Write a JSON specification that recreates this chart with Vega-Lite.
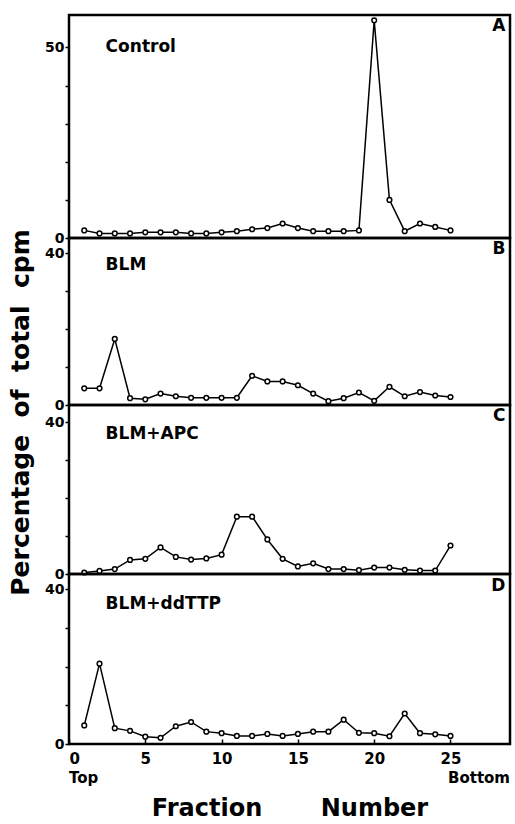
{
  "$schema": "https://vega.github.io/schema/vega-lite/v6.json",
  "padding": {"top": 13, "left": 6, "right": 5, "bottom": 0},
  "config": {
    "font": "DejaVu Sans",
    "view": {"stroke": "black", "strokeWidth": 2.5},
    "concat": {"spacing": 0},
    "axis": {"labelFont": "DejaVu Sans", "labelFontWeight": "bold", "labelColor": "black", "tickColor": "black", "tickWidth": 1.5, "domain": false, "grid": false}
  },
  "bounds": "flush",
  "datasets": {
    "A": [
      {"f": 1, "v": 2.0}, {"f": 2, "v": 1.2}, {"f": 3, "v": 1.2}, {"f": 4, "v": 1.2}, {"f": 5, "v": 1.5},
      {"f": 6, "v": 1.5}, {"f": 7, "v": 1.5}, {"f": 8, "v": 1.2}, {"f": 9, "v": 1.2}, {"f": 10, "v": 1.5},
      {"f": 11, "v": 1.8}, {"f": 12, "v": 2.3}, {"f": 13, "v": 2.6}, {"f": 14, "v": 3.8}, {"f": 15, "v": 2.6},
      {"f": 16, "v": 1.8}, {"f": 17, "v": 1.8}, {"f": 18, "v": 1.8}, {"f": 19, "v": 2.0}, {"f": 20, "v": 57.1},
      {"f": 21, "v": 10.0}, {"f": 22, "v": 1.8}, {"f": 23, "v": 3.8}, {"f": 24, "v": 2.9}, {"f": 25, "v": 2.0}
    ],
    "B": [
      {"f": 1, "v": 4.4}, {"f": 2, "v": 4.4}, {"f": 3, "v": 17.4}, {"f": 4, "v": 1.8}, {"f": 5, "v": 1.5},
      {"f": 6, "v": 3.0}, {"f": 7, "v": 2.3}, {"f": 8, "v": 1.9}, {"f": 9, "v": 1.9}, {"f": 10, "v": 1.9},
      {"f": 11, "v": 1.9}, {"f": 12, "v": 7.7}, {"f": 13, "v": 6.2}, {"f": 14, "v": 6.2}, {"f": 15, "v": 5.2},
      {"f": 16, "v": 3.0}, {"f": 17, "v": 1.0}, {"f": 18, "v": 1.8}, {"f": 19, "v": 3.3}, {"f": 20, "v": 1.1},
      {"f": 21, "v": 4.8}, {"f": 22, "v": 2.3}, {"f": 23, "v": 3.4}, {"f": 24, "v": 2.5}, {"f": 25, "v": 2.1}
    ],
    "C": [
      {"f": 1, "v": 0.4}, {"f": 2, "v": 0.8}, {"f": 3, "v": 1.3}, {"f": 4, "v": 3.7}, {"f": 5, "v": 4.0},
      {"f": 6, "v": 7.0}, {"f": 7, "v": 4.5}, {"f": 8, "v": 3.8}, {"f": 9, "v": 4.1}, {"f": 10, "v": 5.1},
      {"f": 11, "v": 15.1}, {"f": 12, "v": 15.1}, {"f": 13, "v": 9.1}, {"f": 14, "v": 4.0}, {"f": 15, "v": 2.0},
      {"f": 16, "v": 2.8}, {"f": 17, "v": 1.3}, {"f": 18, "v": 1.3}, {"f": 19, "v": 1.0}, {"f": 20, "v": 1.7},
      {"f": 21, "v": 1.7}, {"f": 22, "v": 1.1}, {"f": 23, "v": 0.9}, {"f": 24, "v": 0.9}, {"f": 25, "v": 7.5}
    ],
    "D": [
      {"f": 1, "v": 4.8}, {"f": 2, "v": 20.8}, {"f": 3, "v": 4.1}, {"f": 4, "v": 3.4}, {"f": 5, "v": 1.9},
      {"f": 6, "v": 1.6}, {"f": 7, "v": 4.6}, {"f": 8, "v": 5.7}, {"f": 9, "v": 3.2}, {"f": 10, "v": 2.8},
      {"f": 11, "v": 2.1}, {"f": 12, "v": 2.1}, {"f": 13, "v": 2.6}, {"f": 14, "v": 2.1}, {"f": 15, "v": 2.6},
      {"f": 16, "v": 3.2}, {"f": 17, "v": 3.2}, {"f": 18, "v": 6.3}, {"f": 19, "v": 2.9}, {"f": 20, "v": 2.8},
      {"f": 21, "v": 2.0}, {"f": 22, "v": 7.9}, {"f": 23, "v": 2.8}, {"f": 24, "v": 2.5}, {"f": 25, "v": 2.1}
    ]
  },
  "vconcat": [
    {
      "width": 441, "height": 223,
      "layer": [
        {
          "data": {"name": "A"},
          "mark": {"type": "line", "color": "black", "strokeWidth": 1.5},
          "encoding": {
            "x": {"field": "f", "type": "quantitative", "scale": {"domain": [0, 28.9], "nice": false}, "axis": null},
            "y": {"field": "v", "type": "quantitative", "scale": {"domain": [0, 58.5], "nice": false},
                  "axis": {"title": null, "values": [0, 10, 20, 30, 40, 50], "labelExpr": "datum.value == 0 || datum.value == 50 ? datum.label : ''", "labelFontSize": 14, "tickSize": 4, "labelPadding": 1}}
          }
        },
        {
          "data": {"name": "A"},
          "mark": {"type": "point", "shape": "circle", "filled": true, "fill": "white", "stroke": "black", "strokeWidth": 1.5, "size": 22, "opacity": 1},
          "encoding": {"x": {"field": "f", "type": "quantitative"}, "y": {"field": "v", "type": "quantitative"}}
        },
        {
          "data": {"values": [{"label": "Control"}]},
          "mark": {"type": "text", "align": "left", "baseline": "middle", "fontSize": 17, "fontWeight": "bold", "color": "black"},
          "encoding": {"x": {"datum": 2.4, "type": "quantitative"}, "y": {"datum": 50.1, "type": "quantitative"}, "text": {"field": "label"}}
        },
        {
          "data": {"values": [{"label": "A"}]},
          "mark": {"type": "text", "align": "right", "baseline": "middle", "fontSize": 17, "fontWeight": "bold", "color": "black"},
          "encoding": {"x": {"datum": 28.6, "type": "quantitative"}, "y": {"datum": 55.6, "type": "quantitative"}, "text": {"field": "label"}}
        }
      ]
    },
    {
      "width": 441, "height": 167,
      "layer": [
        {
          "data": {"name": "B"},
          "mark": {"type": "line", "color": "black", "strokeWidth": 1.5},
          "encoding": {
            "x": {"field": "f", "type": "quantitative", "scale": {"domain": [0, 28.9], "nice": false}, "axis": null},
            "y": {"field": "v", "type": "quantitative", "scale": {"domain": [0, 44], "nice": false},
                  "axis": {"title": "Percentage\u00a0 of\u00a0 total\u00a0 cpm", "titleFontSize": 25, "titleFontWeight": "bold", "titleColor": "black", "titleAngle": 270, "titleAlign": "center", "titleBaseline": "middle", "titleX": -49, "titleY": 174,
                           "values": [0, 10, 20, 30, 40], "labelExpr": "datum.value == 0 || datum.value == 40 ? datum.label : ''", "labelFontSize": 14, "tickSize": 4, "labelPadding": 1}}
          }
        },
        {
          "data": {"name": "B"},
          "mark": {"type": "point", "shape": "circle", "filled": true, "fill": "white", "stroke": "black", "strokeWidth": 1.5, "size": 22, "opacity": 1},
          "encoding": {"x": {"field": "f", "type": "quantitative"}, "y": {"field": "v", "type": "quantitative"}}
        },
        {
          "data": {"values": [{"label": "BLM"}]},
          "mark": {"type": "text", "align": "left", "baseline": "middle", "fontSize": 17, "fontWeight": "bold", "color": "black"},
          "encoding": {"x": {"datum": 2.4, "type": "quantitative"}, "y": {"datum": 37, "type": "quantitative"}, "text": {"field": "label"}}
        },
        {
          "data": {"values": [{"label": "B"}]},
          "mark": {"type": "text", "align": "right", "baseline": "middle", "fontSize": 17, "fontWeight": "bold", "color": "black"},
          "encoding": {"x": {"datum": 28.6, "type": "quantitative"}, "y": {"datum": 41, "type": "quantitative"}, "text": {"field": "label"}}
        }
      ]
    },
    {
      "width": 441, "height": 169,
      "layer": [
        {
          "data": {"name": "C"},
          "mark": {"type": "line", "color": "black", "strokeWidth": 1.5},
          "encoding": {
            "x": {"field": "f", "type": "quantitative", "scale": {"domain": [0, 28.9], "nice": false}, "axis": null},
            "y": {"field": "v", "type": "quantitative", "scale": {"domain": [0, 44.5], "nice": false},
                  "axis": {"title": null, "values": [0, 10, 20, 30, 40], "labelExpr": "datum.value == 0 || datum.value == 40 ? datum.label : ''", "labelFontSize": 14, "tickSize": 4, "labelPadding": 1}}
          }
        },
        {
          "data": {"name": "C"},
          "mark": {"type": "point", "shape": "circle", "filled": true, "fill": "white", "stroke": "black", "strokeWidth": 1.5, "size": 22, "opacity": 1},
          "encoding": {"x": {"field": "f", "type": "quantitative"}, "y": {"field": "v", "type": "quantitative"}}
        },
        {
          "data": {"values": [{"label": "BLM+APC"}]},
          "mark": {"type": "text", "align": "left", "baseline": "middle", "fontSize": 17, "fontWeight": "bold", "color": "black"},
          "encoding": {"x": {"datum": 2.4, "type": "quantitative"}, "y": {"datum": 36.8, "type": "quantitative"}, "text": {"field": "label"}}
        },
        {
          "data": {"values": [{"label": "C"}]},
          "mark": {"type": "text", "align": "right", "baseline": "middle", "fontSize": 17, "fontWeight": "bold", "color": "black"},
          "encoding": {"x": {"datum": 28.6, "type": "quantitative"}, "y": {"datum": 41.5, "type": "quantitative"}, "text": {"field": "label"}}
        }
      ]
    },
    {
      "width": 441, "height": 170,
      "layer": [
        {
          "data": {"name": "D"},
          "mark": {"type": "line", "color": "black", "strokeWidth": 1.5},
          "encoding": {
            "x": {"field": "f", "type": "quantitative", "scale": {"domain": [0, 28.9], "nice": false},
                  "axis": {"title": "Fraction\u00a0\u00a0\u00a0\u00a0\u00a0\u00a0 Number", "titleFontSize": 24, "titleFontWeight": "bold", "titleColor": "black", "titlePadding": 30,
                           "values": [0, 5, 10, 15, 20, 25], "labelFontSize": 15, "tickSize": -5, "labelPadding": 12}},
            "y": {"field": "v", "type": "quantitative", "scale": {"domain": [0, 44], "nice": false},
                  "axis": {"title": null, "values": [0, 10, 20, 30, 40], "labelExpr": "datum.value == 0 || datum.value == 40 ? datum.label : ''", "labelFontSize": 14, "tickSize": 4, "labelPadding": 1}}
          }
        },
        {
          "data": {"name": "D"},
          "mark": {"type": "point", "shape": "circle", "filled": true, "fill": "white", "stroke": "black", "strokeWidth": 1.5, "size": 22, "opacity": 1},
          "encoding": {"x": {"field": "f", "type": "quantitative"}, "y": {"field": "v", "type": "quantitative"}}
        },
        {
          "data": {"values": [{"label": "BLM+ddTTP"}]},
          "mark": {"type": "text", "align": "left", "baseline": "middle", "fontSize": 17, "fontWeight": "bold", "color": "black"},
          "encoding": {"x": {"datum": 2.4, "type": "quantitative"}, "y": {"datum": 36.2, "type": "quantitative"}, "text": {"field": "label"}}
        },
        {
          "data": {"values": [{"label": "D"}]},
          "mark": {"type": "text", "align": "right", "baseline": "middle", "fontSize": 17, "fontWeight": "bold", "color": "black"},
          "encoding": {"x": {"datum": 28.6, "type": "quantitative"}, "y": {"datum": 40.8, "type": "quantitative"}, "text": {"field": "label"}}
        },
        {
          "data": {"values": [{"label": "Top"}]},
          "mark": {"type": "text", "align": "left", "baseline": "middle", "fontSize": 15, "fontWeight": "bold", "color": "black"},
          "encoding": {"x": {"datum": 0, "type": "quantitative"}, "y": {"datum": -8.9, "type": "quantitative"}, "text": {"field": "label"}}
        },
        {
          "data": {"values": [{"label": "Bottom"}]},
          "mark": {"type": "text", "align": "right", "baseline": "middle", "fontSize": 15, "fontWeight": "bold", "color": "black"},
          "encoding": {"x": {"datum": 28.9, "type": "quantitative"}, "y": {"datum": -8.9, "type": "quantitative"}, "text": {"field": "label"}}
        }
      ]
    }
  ]
}
